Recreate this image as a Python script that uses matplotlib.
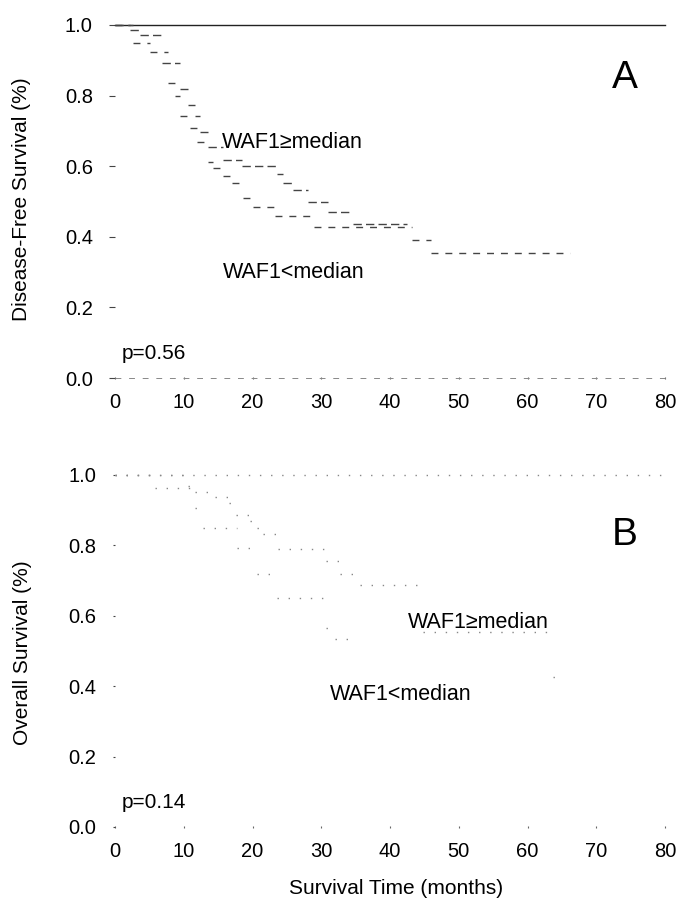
import matplotlib
matplotlib.use("Agg")
import matplotlib.pyplot as plt

plt.rcParams["font.family"] = ["Liberation Sans", "DejaVu Sans"]

# Kaplan-Meier steps (months, survival fraction)
DFS_HIGH_T = [0, 2.2, 3.6, 6.8, 9.5, 10.6, 11.6, 12.4, 13.5, 15.7, 18.5, 23.6, 24.4, 25.9, 28.0, 31.0, 34.6, 42.5]
DFS_HIGH_S = [1.0, 0.986, 0.972, 0.892, 0.82, 0.773, 0.742, 0.697, 0.654, 0.618, 0.60, 0.578, 0.552, 0.532, 0.50, 0.47, 0.436, 0.436]
DFS_LOW_T = [0, 2.6, 5.1, 7.7, 8.7, 9.5, 10.9, 11.9, 13.5, 14.3, 15.7, 17.0, 18.6, 20.0, 23.3, 29.0, 43.2, 46.0, 66.2]
DFS_LOW_S = [1.0, 0.949, 0.924, 0.836, 0.80, 0.742, 0.708, 0.668, 0.612, 0.595, 0.572, 0.552, 0.51, 0.484, 0.459, 0.428, 0.39, 0.354, 0.354]

OS_HIGH_T = [0, 10.6, 11.6, 14.5, 16.6, 17.6, 19.6, 20.7, 21.5, 23.7, 30.7, 32.7, 35.6, 44.8, 63.7, 65.0]
OS_HIGH_S = [1.0, 0.969, 0.952, 0.938, 0.92, 0.886, 0.869, 0.85, 0.832, 0.79, 0.756, 0.72, 0.688, 0.554, 0.426, 0.426]
OS_LOW_T = [0, 5.8, 11.6, 12.8, 17.7, 20.7, 23.6, 30.7, 32.0, 34.0]
OS_LOW_S = [1.0, 0.963, 0.906, 0.85, 0.793, 0.72, 0.65, 0.565, 0.534, 0.534]

X_TICKS = [0, 10, 20, 30, 40, 50, 60, 70, 80]
Y_TICKS = [0.0, 0.2, 0.4, 0.6, 0.8, 1.0]

W, H = 679, 918
fig = plt.figure(figsize=(W / 100, H / 100), dpi=100)


def frac(left, top, right, bottom):
    return [left / W, 1 - bottom / H, (right - left) / W, (bottom - top) / H]


ax_a = fig.add_axes(frac(115, 25, 665, 378))
ax_b = fig.add_axes(frac(115, 475, 665, 827))


def style(ax, top_style, bottom_style, ytick_len):
    ax.set_xlim(0, 80)
    ax.set_ylim(0, 1)
    ax.set_xticks(X_TICKS)
    ax.set_yticks(Y_TICKS)
    ax.set_yticklabels([f"{v:.1f}" for v in Y_TICKS])
    for side in ["left", "right", "top", "bottom"]:
        ax.spines[side].set_visible(False)
    ax.axhline(1.0, color=top_style[0], linewidth=top_style[1], linestyle=top_style[2], clip_on=False)
    if bottom_style is not None:
        ax.axhline(0.0, color=bottom_style[0], linewidth=bottom_style[1], linestyle=bottom_style[2], clip_on=False)
    ax.tick_params(axis="y", direction="out", length=ytick_len, width=0.8, color="#444444", pad=12, labelsize=14.5)
    ax.tick_params(axis="x", direction="inout", length=2, width=0.8, color="#666666", pad=10, labelsize=14.5)


def km_steps(ax, times, surv, **kw):
    # scan lost the vertical drops, only the flat parts survive
    ax.hlines(surv[:-1], times[:-1], times[1:], clip_on=False, **kw)


style(ax_a, ("#222222", 1.0, "-"), ("#888888", 0.7, (0, (6, 8))), 4)
style(ax_b, ("#888888", 1.0, (0, (1, 7))), None, 1.5)

km_steps(ax_a, DFS_HIGH_T, DFS_HIGH_S, color="#444444", linewidth=1.0, linestyle=(0, (6, 3)))
km_steps(ax_a, DFS_LOW_T, DFS_LOW_S, color="#444444", linewidth=1.0, linestyle=(0, (5, 5)))
km_steps(ax_b, OS_HIGH_T, OS_HIGH_S, color="#888888", linewidth=1.0, linestyle=(0, (1, 7)))
km_steps(ax_b, OS_LOW_T, OS_LOW_S, color="#888888", linewidth=1.0, linestyle=(0, (1, 7)))

ax_a.text(15.6, 0.666, "WAF1\u2265median", fontsize=15.5, va="center", ha="left")
ax_a.text(15.7, 0.30, "WAF1<median", fontsize=15.5, va="center", ha="left")
ax_a.text(1.0, 0.07, "p=0.56", fontsize=15, va="center", ha="left")
ax_a.text(74.2, 0.85, "A", fontsize=28, va="center", ha="center")

ax_b.text(42.6, 0.582, "WAF1\u2265median", fontsize=15.5, va="center", ha="left")
ax_b.text(31.3, 0.375, "WAF1<median", fontsize=15.5, va="center", ha="left")
ax_b.text(1.0, 0.07, "p=0.14", fontsize=15, va="center", ha="left")
ax_b.text(74.2, 0.83, "B", fontsize=28, va="center", ha="center")

fig.text(22 / W, 1 - 199 / H, "Disease-Free Survival (%)", rotation=90, fontsize=15, va="center", ha="center")
fig.text(22 / W, 1 - 653 / H, "Overall Survival (%)", rotation=90, fontsize=15, va="center", ha="center")
fig.text(396 / W, 1 - 889 / H, "Survival Time (months)", fontsize=15, va="center", ha="center")

fig.savefig("out.png", dpi=100)
